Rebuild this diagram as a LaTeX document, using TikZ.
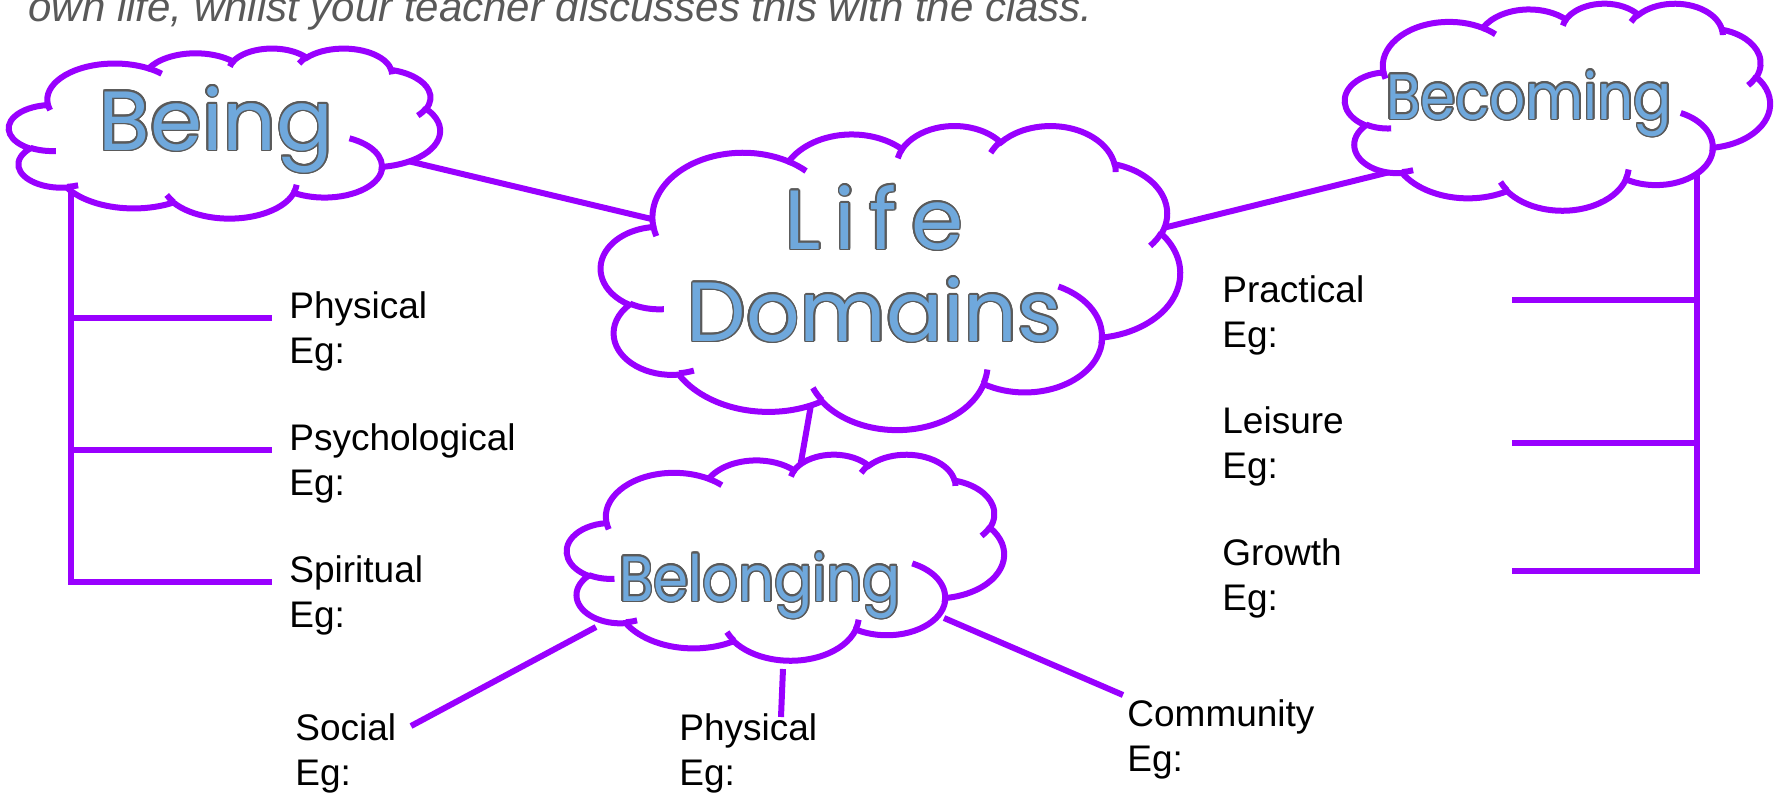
\documentclass[tikz,border=0pt]{standalone}
\usepackage{fontspec}
\usepackage{graphicx}
\setmainfont{Liberation Sans}
\newfontfamily\cloudfont{Poppins}
\usepackage{contour}
\contourlength{0.8pt}
\definecolor{mapPurple}{RGB}{153,0,255}
\definecolor{cloudBlue}{RGB}{111,168,220}
\definecolor{cloudEdge}{RGB}{90,90,90}
\definecolor{introGrey}{RGB}{89,89,89}
\tikzset{
    link/.style={draw=mapPurple,line width=3pt},
    cloudline/.style={draw=mapPurple,line width=3pt},
    ooarc/.style n args={4}{insert path={arc[x radius=#1pt,y radius=#2pt,
        start angle={atan2(#1*sin(#3),#2*cos(#3))},
        delta angle={mod(atan2(#1*sin(#3+#4),#2*cos(#3+#4))-atan2(#1*sin(#3),#2*cos(#3))+720,360)}]}},
    cloudtext/.style 2 args={font=\cloudfont\fontsize{#1}{#2}\selectfont,text=cloudBlue,align=center,inner sep=0pt},
    egtext/.style={font=\fontsize{18.5}{22.5}\selectfont,anchor=base west,inner xsep=8.5pt,inner ysep=0pt},
    intro/.style={font=\itshape\fontsize{21}{25}\selectfont,text=introGrey,anchor=base west,inner sep=0pt}
}
% two lines, first one on the baseline
\newcommand\eglines[1]{\begin{tabular}[t]{@{}l@{}}#1\\Eg:\end{tabular}}
% cloud outline in a box: centre x, centre y, width, height
\newcommand\cloudshape[4]{%
  \begin{scope}[shift={({#1-#3/2},{#2-#4/2})},x=1pt,y=1pt,xscale=#3/86.4,yscale=-#4/86.4]
    \filldraw[cloudline,fill=white] (3.900,14.370)
      [ooarc={6.753}{9.190}{-190.4875}{123.7805}]
      [ooarc={5.333}{7.267}{-144.1024}{89.9452}]
      [ooarc={4.365}{5.945}{-145.8079}{99.7230}]
      [ooarc={4.857}{6.595}{-130.9861}{117.2417}]
      [ooarc={5.333}{7.273}{-78.7089}{109.0269}]
      [ooarc={6.775}{9.220}{-46.2673}{130.2690}]
      [ooarc={5.785}{7.867}{0.6250}{114.0333}]
      [ooarc={6.752}{9.215}{22.4516}{115.1726}]
      [ooarc={7.720}{10.543}{66.2426}{75.7110}]
      [ooarc={4.360}{5.918}{-274.9421}{146.7356}]
      [ooarc={4.345}{5.945}{-246.8285}{152.5189}] -- cycle;
    % the little inner hooks
    \draw[cloudline]
      (4.693,26.177) [ooarc={4.345}{5.945}{86.7420}{26.4295}]
      (6.928,34.899) [ooarc={4.360}{5.918}{73.6105}{11.4475}]
      (16.478,39.090) [ooarc={6.752}{9.215}{137.6242}{14.0811}]
      (28.827,34.751) [ooarc={6.752}{9.215}{6.4533}{15.9984}]
      (34.129,22.954) [ooarc={5.785}{7.867}{-70.2924}{80.6639}]
      (41.798,15.354) [ooarc={5.333}{7.273}{30.3180}{18.6670}]
      (38.324,5.426) [ooarc={4.857}{6.595}{-13.7443}{14.8572}]
      (29.078,3.952) [ooarc={4.857}{6.595}{-149.1815}{18.1876}]
      (22.141,4.720) [ooarc={4.365}{5.945}{-163.4943}{17.6952}]
      (14.000,5.192) [ooarc={6.753}{9.190}{-66.7070}{12.3194}]
      (4.127,15.789) [ooarc={6.753}{9.190}{157.6544}{11.8582}];
  \end{scope}}

\begin{document}
\begin{tikzpicture}[x=0.5pt,y=-0.5pt]
  \fill[white] (0,0) rectangle (1779,793);
  \useasboundingbox (0,0) rectangle (1779,793);

  \node[intro] (intro) at (28,21) {own life, whilst your teacher discusses this with the class.};

  % where the links meet the clouds
  \coordinate (beingR) at (391,157);
  \coordinate (lifeL) at (660,221);
  \coordinate (lifeR) at (1163,228);
  \coordinate (becomingL) at (1398,170);
  \coordinate (lifeB) at (815,382);
  \coordinate (belongingT) at (798,479);
  \coordinate (belongingL) at (596,627);
  \coordinate (belongingB) at (783,669);
  \coordinate (belongingR) at (944,618);
  \coordinate (beingTrunk) at (71,180);
  \coordinate (becomingTrunk) at (1697,160);

  % labels
  \node[egtext] (beingPhys) at (272,318) {\eglines{Physical}};
  \node[egtext] (beingPsych) at (272,450) {\eglines{Psychological}};
  \node[egtext] (beingSpirit) at (272,582) {\eglines{Spiritual}};
  \node[egtext] (becPractical) at (1205,302) {\eglines{Practical}};
  \node[egtext] (becLeisure) at (1205,433) {\eglines{Leisure}};
  \node[egtext] (becGrowth) at (1205,565) {\eglines{Growth}};
  \node[egtext] (belSocial) at (278,740) {\eglines{Social}};
  \node[egtext] (belPhys) at (662,740) {\eglines{Physical}};
  \node[egtext] (belCommunity) at (1110,726) {\eglines{Community}};

  % free ends
  \coordinate (socialEnd) at (411,726);
  \coordinate (physEnd) at (781,717);
  \coordinate (communityEnd) at (1123,695);
  \coordinate (practicalEnd) at (1512,300);
  \coordinate (leisureEnd) at (1512,443);
  \coordinate (growthEnd) at (1512,571);

  % links between clouds
  \draw[link] (beingR) -- (lifeL);
  \draw[link] (lifeR) -- (becomingL);
  \draw[link] (lifeB) -- (belongingT);
  \draw[link] (belongingL) -- (socialEnd);
  \draw[link] (belongingB) -- (physEnd);
  \draw[link] (belongingR) -- (communityEnd);

  % Being branches
  \draw[link] (beingTrunk) |- (beingSpirit.base west);
  \draw[link] (beingTrunk |- beingPhys.base west) -- (beingPhys.base west);
  \draw[link] (beingTrunk |- beingPsych.base west) -- (beingPsych.base west);

  % Becoming branches
  \draw[link] (becomingTrunk) |- (growthEnd);
  \draw[link] (practicalEnd) -- (practicalEnd -| becomingTrunk);
  \draw[link] (leisureEnd) -- (leisureEnd -| becomingTrunk);

  % clouds
  \cloudshape{224.5}{133}{431}{170}
  \cloudshape{890.5}{277}{579}{304}
  \cloudshape{1557.5}{106.5}{425}{207}
  \cloudshape{785.5}{557}{437}{206}

  \node[cloudtext={42}{46},anchor=base] (being) at (216,150) {\contour{cloudEdge}{Being}};
  \node[cloudtext={42}{46},anchor=south] (life) at (874,344) {\contour{cloudEdge}{L\kern7pt i\kern7pt f\kern7pt e}\\\contour{cloudEdge}{Domains}};
  \node[cloudtext={32}{36},anchor=base] (becoming) at (1529,119) {\scalebox{0.88}[1]{\contour{cloudEdge}{Becoming}}};
  \node[cloudtext={32}{36},anchor=base] (belonging) at (760,601) {\scalebox{0.88}[1]{\contour{cloudEdge}{Belonging}}};
\end{tikzpicture}
\end{document}
